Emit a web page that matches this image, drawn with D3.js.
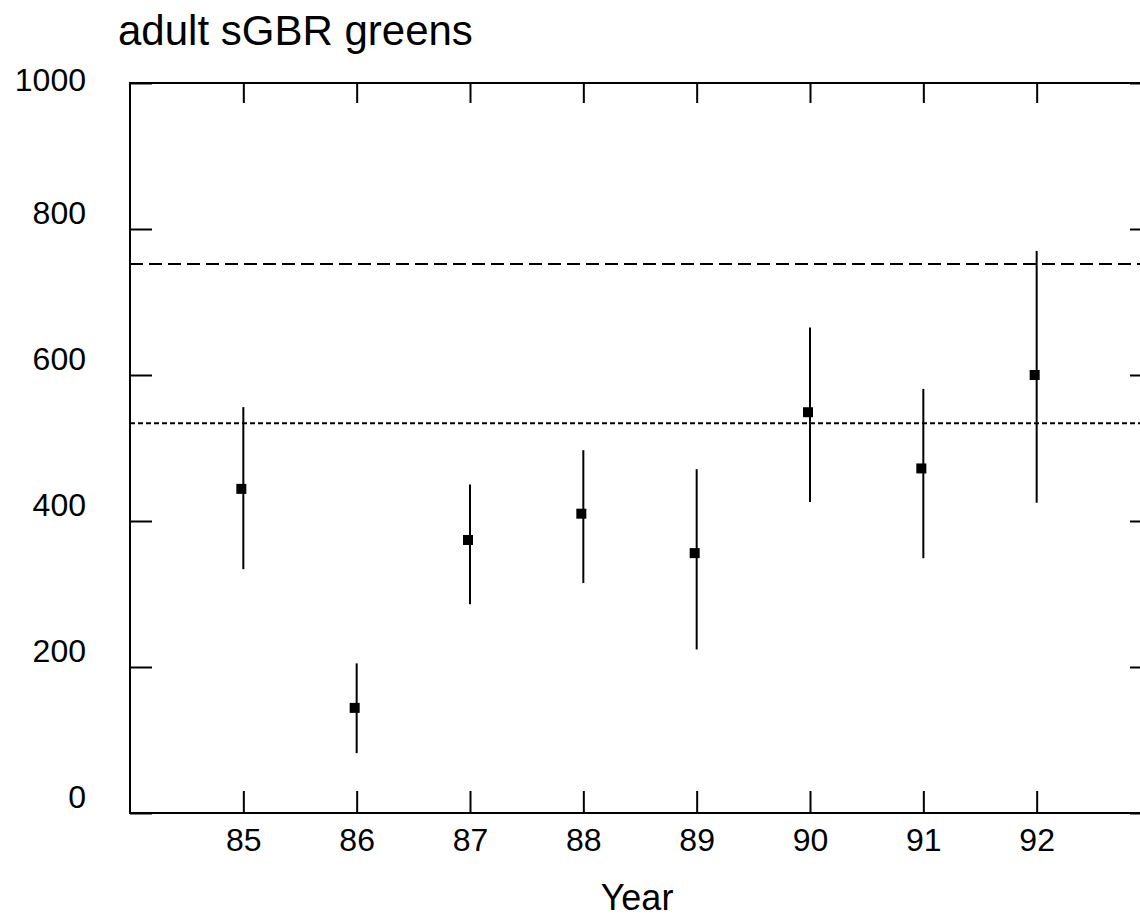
<!DOCTYPE html>
<html>
<head>
<meta charset="utf-8">
<script src="https://cdn.jsdelivr.net/npm/d3@7"></script>
<style>
  body { margin: 0; background: #fff; }
  svg { display: block; }
</style>
</head>
<body>
<div id="chart"></div>
<script>
// Data
const years = [85, 86, 87, 88, 89, 90, 91, 92];
const means = [444, 144, 374, 410, 356, 549, 472, 600];
const upper = [556, 205, 450, 497, 471, 665, 581, 770];
const lower = [334, 82, 286, 315, 224, 426, 349, 425];
const yTicks = [0, 200, 400, 600, 800, 1000];
const dashedLevel = 752;
const dottedLevel = 534;

const width = 1140;
const height = 918;
const plot = { left: 130, right: 1150, top: 83, bottom: 813 };
const font = "'Liberation Sans', Arial, Helvetica, sans-serif";

const svg = d3.select("#chart")
    .append("svg")
    .attr("width", width)
    .attr("height", height)
    .style("font-family", font);

// Scales
const x = d3.scaleLinear().domain([84, 93]).range([plot.left, plot.right]);
const y = d3.scaleLinear().domain([0, 1000]).range([plot.bottom, plot.top]);

// Title
svg.append("text")
    .attr("x", 118)
    .attr("y", 45)
    .style("font-size", "42px")
    .text("adult sGBR greens");

// Reference lines
svg.append("line")
    .attr("x1", plot.left).attr("x2", plot.right)
    .attr("y1", y(dashedLevel)).attr("y2", y(dashedLevel))
    .attr("stroke", "#000").attr("stroke-width", 2)
    .attr("stroke-dasharray", "13,6");

svg.append("line")
    .attr("x1", plot.left).attr("x2", plot.right)
    .attr("y1", y(dottedLevel)).attr("y2", y(dottedLevel))
    .attr("stroke", "#000").attr("stroke-width", 2)
    .attr("stroke-dasharray", "5,3");

// Axes with inward ticks
const left = svg.append("g")
    .attr("transform", `translate(${plot.left},0)`)
    .call(d3.axisLeft(y).tickValues(yTicks).tickSize(-22).tickPadding(44).tickFormat(d3.format("d")));

// labels sit above their ticks in the original
left.selectAll("text")
    .attr("dy", "0.35em")
    .attr("y", d => Math.max(y(d) - 17, 79) - y(d));

svg.append("g")
    .attr("transform", `translate(0,${plot.bottom})`)
    .call(d3.axisBottom(x).tickValues(years).tickSize(-22).tickPadding(15));

svg.append("g")
    .attr("transform", `translate(0,${plot.top})`)
    .call(d3.axisTop(x).tickValues(years).tickSize(-20).tickFormat(""));

svg.append("g")
    .attr("transform", `translate(${plot.right},0)`)
    .call(d3.axisRight(y).tickValues(yTicks).tickSize(-20).tickFormat(""));

svg.selectAll(".domain").remove();
svg.selectAll(".tick line").attr("stroke", "#000").attr("stroke-width", 2);
svg.selectAll(".tick text")
    .attr("fill", "#000")
    .style("font-family", font)
    .style("font-size", "32px");

// Frame
svg.append("rect")
    .attr("x", plot.left)
    .attr("y", plot.top)
    .attr("width", plot.right - plot.left)
    .attr("height", plot.bottom - plot.top)
    .attr("fill", "none")
    .attr("stroke", "#000")
    .attr("stroke-width", 2);

// Error bars
svg.selectAll(".bar")
    .data(years)
    .enter()
    .append("line")
    .attr("class", "bar")
    .attr("x1", d => x(d)).attr("x2", d => x(d))
    .attr("y1", (d, i) => y(upper[i]))
    .attr("y2", (d, i) => y(lower[i]))
    .attr("stroke", "#000")
    .attr("stroke-width", 2);

// Mean markers
svg.selectAll(".point")
    .data(years)
    .enter()
    .append("rect")
    .attr("class", "point")
    .attr("x", d => x(d) - 7)
    .attr("y", (d, i) => y(means[i]) - 5)
    .attr("width", 10)
    .attr("height", 10)
    .attr("fill", "#000");

// Axis title
svg.append("text")
    .attr("x", (plot.left + plot.right) / 2 - 3)
    .attr("y", 910)
    .attr("text-anchor", "middle")
    .style("font-size", "36px")
    .text("Year");
</script>
</body>
</html>
